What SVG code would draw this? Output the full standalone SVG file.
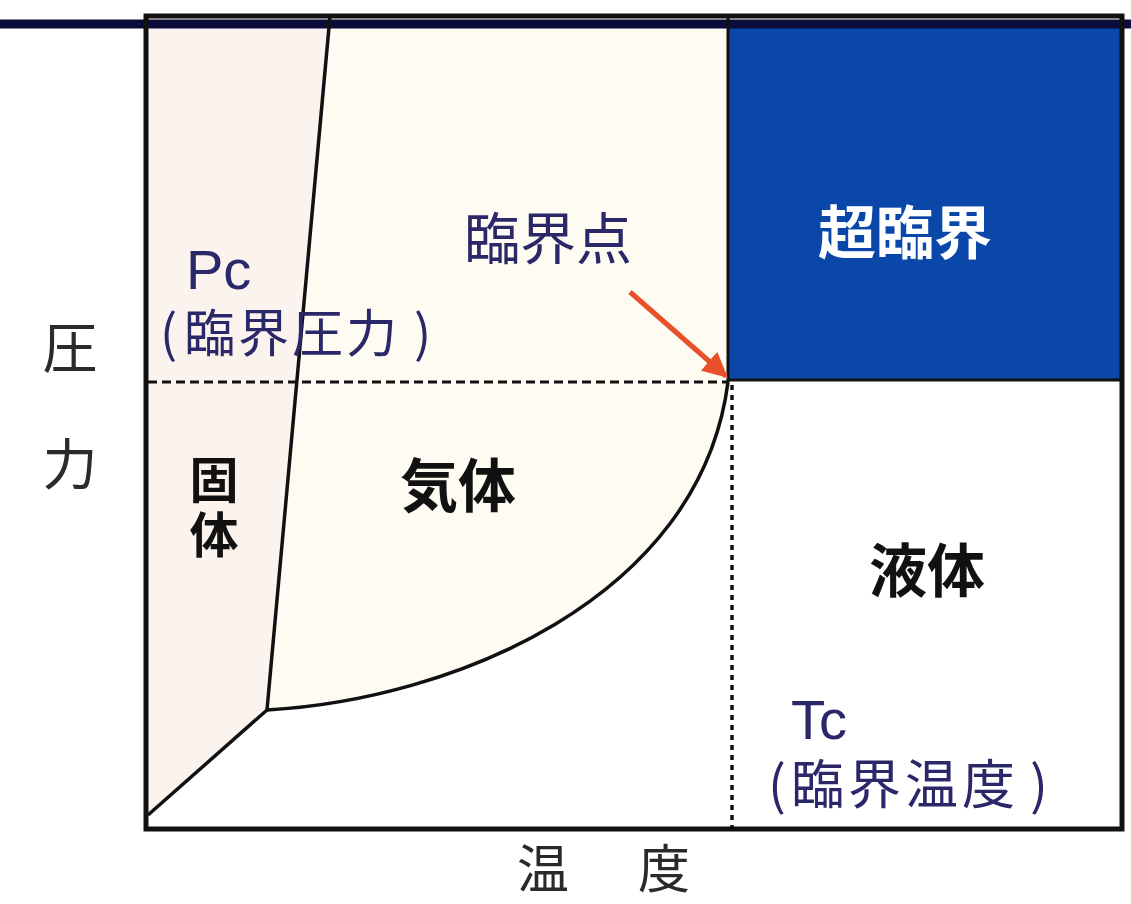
<svg xmlns="http://www.w3.org/2000/svg" width="1131" height="904" viewBox="0 0 1131 904">
<defs>
<style>
.jp{font-family:"Noto Sans CJK JP","Noto Sans CJK SC",sans-serif}
.lbl{fill:#2a2868}
.ax{fill:#2a2a2a}
.ph{fill:#111;font-weight:bold}
.en{font-family:"Liberation Sans","DejaVu Sans",sans-serif;fill:#2a2868}
.bd{fill:none;stroke:#111;stroke-width:3.5}
.frame{fill:none;stroke:#111;stroke-width:5}
</style>
<marker id="ah" viewBox="0 0 10 10" refX="9" refY="5" markerWidth="5" markerHeight="5" orient="auto" markerUnits="strokeWidth">
<path d="M0,0 L10,5 L0,10 Z" fill="#e8502a"/>
</marker>
</defs>
<rect width="1131" height="904" fill="#fff"/>
<g id="solid-region">
<polygon points="146,16 330,16 267,710 148,815 146,828" fill="#fbf3ee"/>
</g>
<g id="gas-region">
<path d="M330,16 L728,16 L728,382 C700,600 450,700 267,710 Z" fill="#fefbf2"/>
</g>
<g id="supercritical-region">
<rect x="728" y="20" width="394" height="360" fill="#0b47a8"/>
<text class="jp" x="905" y="254" font-size="58" font-weight="bold" fill="#fff" text-anchor="middle">超臨界</text>
</g>
<g id="connectors">
<line x1="0" y1="24" x2="1131" y2="24" stroke="#0c0c3a" stroke-width="9"/>
<rect class="frame" x="146" y="16" width="976" height="813"/>
<polyline class="bd" points="330,16 267,710 148,815"/>
<path class="bd" d="M267,710 C450,700 700,600 728,382"/>
<line x1="728" y1="16" x2="728" y2="382" stroke="#111" stroke-width="3"/>
<line x1="728" y1="380" x2="1122" y2="380" stroke="#111" stroke-width="3"/>
<line x1="148" y1="382" x2="728" y2="382" stroke="#111" stroke-width="3" stroke-dasharray="9,5"/>
<line x1="732" y1="385" x2="732" y2="828" stroke="#111" stroke-width="3.5" stroke-dasharray="5,5"/>
<line x1="630" y1="292" x2="726" y2="376" stroke="#e8502a" stroke-width="5" marker-end="url(#ah)"/>
</g>
<g id="critical-point-label">
<text class="jp lbl" x="548" y="259" font-size="56" text-anchor="middle">臨界点</text>
</g>
<g id="pc-label">
<text class="en" x="186" y="289" font-size="56">Pc</text>
<text class="jp lbl" y="352" font-size="51"><tspan x="160">(</tspan><tspan x="184" letter-spacing="3">臨界圧力</tspan><tspan x="414">)</tspan></text>
</g>
<g id="tc-label">
<text class="en" x="791" y="739" font-size="56">Tc</text>
<text class="jp lbl" y="804" font-size="53"><tspan x="768">(</tspan><tspan x="791" letter-spacing="4">臨界温度</tspan><tspan x="1030">)</tspan></text>
</g>
<g id="solid-label">
<text class="jp ph" x="214" y="498" font-size="49" text-anchor="middle">固</text>
<text class="jp ph" x="214" y="553" font-size="49" text-anchor="middle">体</text>
</g>
<g id="gas-label">
<text class="jp ph" x="458" y="507" font-size="58" text-anchor="middle">気体</text>
</g>
<g id="liquid-label">
<text class="jp ph" x="927" y="592" font-size="58" text-anchor="middle">液体</text>
</g>
<g id="y-axis-label">
<text class="jp ax" x="70" y="368" font-size="55" text-anchor="middle">圧</text>
<text class="jp ax" x="70" y="484" font-size="55" text-anchor="middle">力</text>
</g>
<g id="x-axis-label">
<text class="jp ax" x="543" y="888" font-size="52" text-anchor="middle">温</text>
<text class="jp ax" x="664" y="888" font-size="52" text-anchor="middle">度</text>
</g>
</svg>
